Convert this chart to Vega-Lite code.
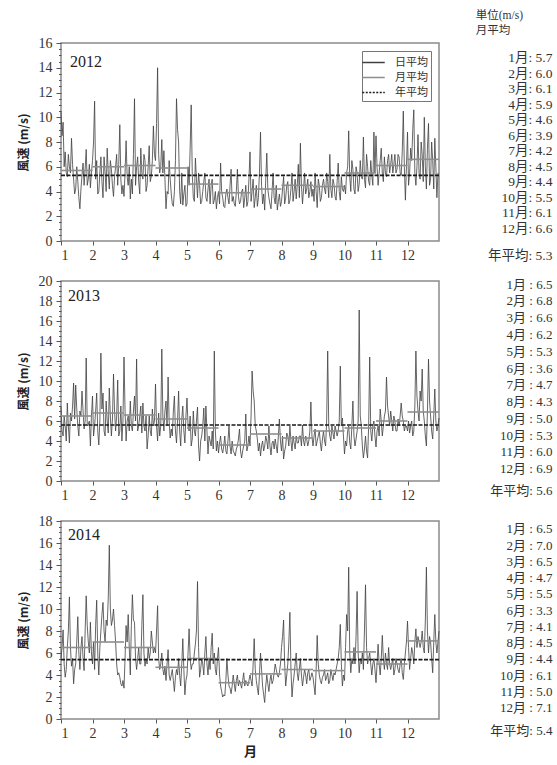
{
  "$schema": "https://vega.github.io/schema/vega-lite/v6.json",
  "padding": {"top": 9, "left": 16, "right": 0, "bottom": 2},
  "background": "white",
  "spacing": 40,
  "bounds": "flush",
  "config": {
    "view": {"stroke": "#8a8a8a", "strokeWidth": 1.5},
    "axis": {"labelFont": "Liberation Serif", "labelFontSize": 14, "labelColor": "#333", "tickColor": "#555", "domain": false, "grid": false, "labelOverlap": false, "labelSeparation": 0, "labelBound": false, "titleFont": "Noto Sans CJK JP", "titleFontSize": 12, "titleFontWeight": "bold", "titleColor": "#222"},
    "text": {"font": "Liberation Serif, Noto Sans CJK JP", "fontSize": 12, "color": "#333"}
  },
  "datasets": {
    "d2012": [{"d":0,"v":10.5},{"d":2,"v":9.6},{"d":4,"v":7.2},{"d":6,"v":5.2},{"d":8,"v":6.0},{"d":10,"v":8.3},{"d":12,"v":5.0},{"d":14,"v":4.2},{"d":16,"v":4.8},{"d":18,"v":2.6},{"d":20,"v":5.3},{"d":22,"v":4.5},{"d":24,"v":7.4},{"d":26,"v":5.0},{"d":28,"v":4.3},
      {"d":30,"v":6.5},{"d":32,"v":11.3},{"d":34,"v":6.5},{"d":36,"v":4.0},{"d":38,"v":6.8},{"d":40,"v":3.5},{"d":42,"v":5.5},{"d":44,"v":7.5},{"d":46,"v":4.2},{"d":48,"v":5.8},{"d":50,"v":3.6},{"d":52,"v":6.0},{"d":54,"v":4.5},{"d":56,"v":9.4},{"d":58,"v":3.8},
      {"d":60,"v":3.6},{"d":62,"v":8.1},{"d":64,"v":4.5},{"d":66,"v":3.4},{"d":68,"v":3.8},{"d":70,"v":11.5},{"d":72,"v":6.0},{"d":74,"v":4.8},{"d":76,"v":7.5},{"d":78,"v":5.0},{"d":80,"v":6.5},{"d":82,"v":4.5},{"d":84,"v":7.7},{"d":86,"v":5.2},{"d":88,"v":9.3},
      {"d":90,"v":6.5},{"d":92,"v":14.0},{"d":94,"v":5.5},{"d":96,"v":8.2},{"d":98,"v":7.3},{"d":100,"v":2.6},{"d":102,"v":3.8},{"d":104,"v":5.0},{"d":106,"v":3.0},{"d":108,"v":4.0},{"d":110,"v":11.5},{"d":112,"v":8.0},{"d":114,"v":3.0},{"d":116,"v":2.9},{"d":118,"v":4.5},
      {"d":120,"v":3.0},{"d":122,"v":4.5},{"d":124,"v":11.0},{"d":126,"v":3.5},{"d":128,"v":6.7},{"d":130,"v":3.5},{"d":132,"v":4.5},{"d":134,"v":3.2},{"d":136,"v":4.8},{"d":138,"v":3.5},{"d":140,"v":4.2},{"d":142,"v":3.0},{"d":144,"v":5.0},{"d":146,"v":3.3},{"d":148,"v":2.6},
      {"d":150,"v":4.0},{"d":152,"v":6.3},{"d":154,"v":3.5},{"d":156,"v":2.7},{"d":158,"v":4.2},{"d":160,"v":3.0},{"d":162,"v":5.8},{"d":164,"v":3.6},{"d":166,"v":2.8},{"d":168,"v":5.8},{"d":170,"v":3.0},{"d":172,"v":4.0},{"d":174,"v":2.7},{"d":176,"v":4.5},{"d":178,"v":3.2},
      {"d":180,"v":7.2},{"d":182,"v":4.0},{"d":184,"v":2.7},{"d":186,"v":4.5},{"d":188,"v":3.5},{"d":190,"v":8.8},{"d":192,"v":3.0},{"d":194,"v":2.5},{"d":196,"v":7.1},{"d":198,"v":3.5},{"d":200,"v":2.6},{"d":202,"v":5.5},{"d":204,"v":3.0},{"d":206,"v":2.5},{"d":208,"v":3.8},
      {"d":210,"v":3.2},{"d":212,"v":5.2},{"d":214,"v":3.5},{"d":216,"v":4.8},{"d":218,"v":3.3},{"d":220,"v":5.5},{"d":222,"v":4.0},{"d":224,"v":3.4},{"d":226,"v":6.2},{"d":228,"v":7.9},{"d":230,"v":3.0},{"d":232,"v":5.5},{"d":234,"v":4.2},{"d":236,"v":3.5},{"d":238,"v":4.8},
      {"d":240,"v":4.2},{"d":242,"v":5.5},{"d":244,"v":2.7},{"d":246,"v":4.5},{"d":248,"v":3.5},{"d":250,"v":5.0},{"d":252,"v":3.8},{"d":254,"v":4.8},{"d":256,"v":7.0},{"d":258,"v":3.5},{"d":260,"v":4.6},{"d":262,"v":3.3},{"d":264,"v":6.3},{"d":266,"v":3.3},{"d":268,"v":4.2},
      {"d":270,"v":4.5},{"d":272,"v":5.5},{"d":274,"v":8.9},{"d":276,"v":4.0},{"d":278,"v":5.8},{"d":280,"v":3.8},{"d":282,"v":5.5},{"d":284,"v":4.6},{"d":286,"v":5.2},{"d":288,"v":8.4},{"d":290,"v":4.3},{"d":292,"v":6.0},{"d":294,"v":4.5},{"d":296,"v":5.3},{"d":298,"v":8.8},
      {"d":300,"v":8.5},{"d":302,"v":4.5},{"d":304,"v":6.5},{"d":306,"v":5.5},{"d":308,"v":6.8},{"d":310,"v":5.2},{"d":312,"v":7.0},{"d":314,"v":6.2},{"d":316,"v":5.5},{"d":318,"v":7.0},{"d":320,"v":5.8},{"d":322,"v":6.8},{"d":324,"v":5.3},{"d":326,"v":10.5},{"d":328,"v":3.3},
      {"d":330,"v":8.8},{"d":332,"v":5.5},{"d":334,"v":6.5},{"d":336,"v":10.6},{"d":338,"v":4.5},{"d":340,"v":8.6},{"d":342,"v":5.0},{"d":344,"v":7.0},{"d":346,"v":10.0},{"d":348,"v":4.2},{"d":350,"v":9.5},{"d":352,"v":5.0},{"d":354,"v":6.5},{"d":356,"v":8.3},{"d":358,"v":3.5},
      {"d":1,"v":8.5},{"d":3,"v":6.0},{"d":5,"v":5.5},{"d":7,"v":7.0},{"d":9,"v":5.5},{"d":11,"v":6.2},{"d":13,"v":3.8},{"d":15,"v":6.0},{"d":17,"v":3.5},{"d":19,"v":4.2},{"d":21,"v":6.3},{"d":23,"v":5.8},{"d":25,"v":4.5},{"d":27,"v":6.2},{"d":29,"v":5.5},
      {"d":31,"v":8.0},{"d":33,"v":5.0},{"d":35,"v":3.8},{"d":37,"v":5.5},{"d":39,"v":4.8},{"d":41,"v":6.8},{"d":43,"v":4.0},{"d":45,"v":5.5},{"d":47,"v":6.5},{"d":49,"v":4.5},{"d":51,"v":5.2},{"d":53,"v":7.0},{"d":55,"v":6.2},{"d":57,"v":5.0},{"d":59,"v":4.5},
      {"d":61,"v":5.5},{"d":63,"v":5.2},{"d":65,"v":6.0},{"d":67,"v":5.0},{"d":69,"v":7.0},{"d":71,"v":4.5},{"d":73,"v":6.8},{"d":75,"v":3.8},{"d":77,"v":5.5},{"d":79,"v":7.0},{"d":81,"v":4.0},{"d":83,"v":6.0},{"d":85,"v":4.8},{"d":87,"v":6.5},{"d":89,"v":7.0},
      {"d":91,"v":9.5},{"d":93,"v":7.0},{"d":95,"v":6.0},{"d":97,"v":5.5},{"d":99,"v":5.0},{"d":101,"v":4.0},{"d":103,"v":6.5},{"d":105,"v":3.8},{"d":107,"v":2.8},{"d":109,"v":6.5},{"d":111,"v":9.0},{"d":113,"v":4.0},{"d":115,"v":5.5},{"d":117,"v":3.8},{"d":119,"v":2.8},
      {"d":121,"v":6.0},{"d":123,"v":7.5},{"d":125,"v":5.5},{"d":127,"v":3.2},{"d":129,"v":5.0},{"d":131,"v":5.5},{"d":133,"v":3.0},{"d":135,"v":4.0},{"d":137,"v":5.5},{"d":139,"v":3.2},{"d":141,"v":5.0},{"d":143,"v":4.5},{"d":145,"v":3.0},{"d":147,"v":4.0},{"d":149,"v":3.5},
      {"d":151,"v":3.0},{"d":153,"v":4.0},{"d":155,"v":2.8},{"d":157,"v":3.8},{"d":159,"v":3.5},{"d":161,"v":4.5},{"d":163,"v":3.2},{"d":165,"v":3.0},{"d":167,"v":4.0},{"d":169,"v":3.6},{"d":171,"v":3.2},{"d":173,"v":4.2},{"d":175,"v":3.5},{"d":177,"v":2.8},{"d":179,"v":5.0},
      {"d":181,"v":3.2},{"d":183,"v":5.0},{"d":185,"v":3.5},{"d":187,"v":2.8},{"d":189,"v":5.5},{"d":191,"v":4.5},{"d":193,"v":3.8},{"d":195,"v":5.0},{"d":197,"v":4.2},{"d":199,"v":3.0},{"d":201,"v":4.0},{"d":203,"v":3.5},{"d":205,"v":4.5},{"d":207,"v":3.2},{"d":209,"v":2.8},
      {"d":211,"v":4.2},{"d":213,"v":3.0},{"d":215,"v":4.5},{"d":217,"v":3.0},{"d":219,"v":4.2},{"d":221,"v":3.2},{"d":223,"v":5.0},{"d":225,"v":4.5},{"d":227,"v":3.5},{"d":229,"v":4.5},{"d":231,"v":4.2},{"d":233,"v":3.8},{"d":235,"v":5.0},{"d":237,"v":4.0},{"d":239,"v":3.6},
      {"d":241,"v":3.2},{"d":243,"v":4.0},{"d":245,"v":5.0},{"d":247,"v":3.2},{"d":249,"v":4.5},{"d":251,"v":4.2},{"d":253,"v":5.5},{"d":255,"v":3.5},{"d":257,"v":4.2},{"d":259,"v":5.0},{"d":261,"v":3.6},{"d":263,"v":4.8},{"d":265,"v":4.0},{"d":267,"v":5.2},{"d":269,"v":4.0},
      {"d":271,"v":3.8},{"d":273,"v":6.0},{"d":275,"v":5.2},{"d":277,"v":6.5},{"d":279,"v":4.2},{"d":281,"v":6.0},{"d":283,"v":4.0},{"d":285,"v":6.5},{"d":287,"v":5.0},{"d":289,"v":5.0},{"d":291,"v":7.0},{"d":293,"v":4.8},{"d":295,"v":6.5},{"d":297,"v":4.5},{"d":299,"v":5.5},
      {"d":301,"v":6.0},{"d":303,"v":5.5},{"d":305,"v":7.5},{"d":307,"v":4.8},{"d":309,"v":5.5},{"d":311,"v":6.5},{"d":313,"v":5.5},{"d":315,"v":7.0},{"d":317,"v":6.2},{"d":319,"v":5.5},{"d":321,"v":7.0},{"d":323,"v":5.5},{"d":325,"v":7.2},{"d":327,"v":6.0},{"d":329,"v":6.0},
      {"d":331,"v":4.5},{"d":333,"v":7.5},{"d":335,"v":9.0},{"d":337,"v":5.5},{"d":339,"v":6.0},{"d":341,"v":5.5},{"d":343,"v":8.0},{"d":345,"v":4.8},{"d":347,"v":6.0},{"d":349,"v":7.5},{"d":351,"v":4.5},{"d":353,"v":8.0},{"d":355,"v":4.2},{"d":357,"v":6.0},{"d":359,"v":5.5}],
    "d2013": [{"d":0,"v":7.4},{"d":2,"v":4.5},{"d":4,"v":5.5},{"d":6,"v":7.8},{"d":8,"v":3.8},{"d":10,"v":6.0},{"d":12,"v":9.8},{"d":14,"v":9.6},{"d":16,"v":5.5},{"d":18,"v":7.0},{"d":20,"v":9.0},{"d":22,"v":5.2},{"d":24,"v":12.3},{"d":26,"v":5.7},{"d":28,"v":3.5},
      {"d":30,"v":8.5},{"d":32,"v":5.5},{"d":34,"v":8.8},{"d":36,"v":3.6},{"d":38,"v":12.8},{"d":40,"v":8.8},{"d":42,"v":4.5},{"d":44,"v":6.0},{"d":46,"v":9.3},{"d":48,"v":4.5},{"d":50,"v":10.7},{"d":52,"v":5.0},{"d":54,"v":10.1},{"d":56,"v":5.0},{"d":58,"v":4.0},
      {"d":60,"v":12.4},{"d":62,"v":4.0},{"d":64,"v":6.5},{"d":66,"v":8.0},{"d":68,"v":5.0},{"d":70,"v":8.5},{"d":72,"v":12.2},{"d":74,"v":5.5},{"d":76,"v":7.5},{"d":78,"v":7.8},{"d":80,"v":5.0},{"d":82,"v":3.2},{"d":84,"v":6.5},{"d":86,"v":4.5},{"d":88,"v":5.5},
      {"d":90,"v":9.7},{"d":92,"v":4.0},{"d":94,"v":4.5},{"d":96,"v":13.2},{"d":98,"v":5.0},{"d":100,"v":8.0},{"d":102,"v":10.4},{"d":104,"v":4.3},{"d":106,"v":4.5},{"d":108,"v":8.5},{"d":110,"v":3.8},{"d":112,"v":9.0},{"d":114,"v":3.5},{"d":116,"v":7.5},{"d":118,"v":3.8},
      {"d":120,"v":8.3},{"d":122,"v":5.0},{"d":124,"v":3.5},{"d":126,"v":7.0},{"d":128,"v":4.5},{"d":130,"v":7.4},{"d":132,"v":2.0},{"d":134,"v":4.5},{"d":136,"v":7.3},{"d":138,"v":7.5},{"d":140,"v":2.7},{"d":142,"v":4.0},{"d":144,"v":5.0},{"d":146,"v":13.0},{"d":148,"v":3.0},
      {"d":150,"v":2.8},{"d":152,"v":4.5},{"d":154,"v":2.8},{"d":156,"v":4.5},{"d":158,"v":2.7},{"d":160,"v":5.5},{"d":162,"v":2.7},{"d":164,"v":3.0},{"d":166,"v":2.5},{"d":168,"v":3.5},{"d":170,"v":5.2},{"d":172,"v":2.3},{"d":174,"v":3.5},{"d":176,"v":6.7},{"d":178,"v":3.5},
      {"d":180,"v":3.5},{"d":182,"v":11.0},{"d":184,"v":8.0},{"d":186,"v":5.0},{"d":188,"v":3.0},{"d":190,"v":2.5},{"d":192,"v":4.0},{"d":194,"v":3.5},{"d":196,"v":4.0},{"d":198,"v":5.5},{"d":200,"v":2.6},{"d":202,"v":4.0},{"d":204,"v":4.2},{"d":206,"v":2.8},{"d":208,"v":6.2},
      {"d":210,"v":3.0},{"d":212,"v":2.2},{"d":214,"v":3.5},{"d":216,"v":4.5},{"d":218,"v":5.5},{"d":220,"v":3.0},{"d":222,"v":3.8},{"d":224,"v":4.5},{"d":226,"v":3.8},{"d":228,"v":4.5},{"d":230,"v":5.6},{"d":232,"v":3.5},{"d":234,"v":4.2},{"d":236,"v":4.0},{"d":238,"v":7.9},
      {"d":240,"v":3.5},{"d":242,"v":5.2},{"d":244,"v":4.0},{"d":246,"v":5.0},{"d":248,"v":3.0},{"d":250,"v":5.0},{"d":252,"v":3.5},{"d":254,"v":13.0},{"d":256,"v":4.5},{"d":258,"v":5.5},{"d":260,"v":4.2},{"d":262,"v":5.0},{"d":264,"v":5.0},{"d":266,"v":11.5},{"d":268,"v":6.3},
      {"d":270,"v":2.7},{"d":272,"v":3.5},{"d":274,"v":5.5},{"d":276,"v":3.2},{"d":278,"v":8.0},{"d":280,"v":3.5},{"d":282,"v":5.0},{"d":284,"v":17.1},{"d":286,"v":5.5},{"d":288,"v":2.3},{"d":290,"v":4.5},{"d":292,"v":2.3},{"d":294,"v":12.4},{"d":296,"v":4.0},{"d":298,"v":6.0},
      {"d":300,"v":3.4},{"d":302,"v":5.5},{"d":304,"v":7.2},{"d":306,"v":4.5},{"d":308,"v":6.5},{"d":310,"v":10.4},{"d":312,"v":6.5},{"d":314,"v":7.0},{"d":316,"v":5.0},{"d":318,"v":6.0},{"d":320,"v":5.0},{"d":322,"v":5.5},{"d":324,"v":7.8},{"d":326,"v":6.0},{"d":328,"v":5.5},
      {"d":330,"v":5.0},{"d":332,"v":4.8},{"d":334,"v":6.0},{"d":336,"v":5.0},{"d":338,"v":13.0},{"d":340,"v":7.0},{"d":342,"v":9.0},{"d":344,"v":11.2},{"d":346,"v":6.0},{"d":348,"v":3.5},{"d":350,"v":12.2},{"d":352,"v":6.5},{"d":354,"v":4.2},{"d":356,"v":9.2},{"d":358,"v":5.0},{"d":360,"v":6.3},
      {"d":1,"v":5.0},{"d":3,"v":6.5},{"d":5,"v":4.0},{"d":7,"v":5.5},{"d":9,"v":6.8},{"d":11,"v":7.5},{"d":13,"v":6.2},{"d":15,"v":7.2},{"d":17,"v":4.5},{"d":19,"v":6.5},{"d":21,"v":7.0},{"d":23,"v":6.0},{"d":25,"v":5.5},{"d":27,"v":6.0},{"d":29,"v":6.5},
      {"d":31,"v":4.5},{"d":33,"v":7.0},{"d":35,"v":5.0},{"d":37,"v":6.0},{"d":39,"v":7.2},{"d":41,"v":5.0},{"d":43,"v":8.0},{"d":45,"v":4.8},{"d":47,"v":6.5},{"d":49,"v":6.2},{"d":51,"v":7.0},{"d":53,"v":6.5},{"d":55,"v":4.5},{"d":57,"v":7.5},{"d":59,"v":6.0},
      {"d":61,"v":7.0},{"d":63,"v":6.0},{"d":65,"v":5.0},{"d":67,"v":5.5},{"d":69,"v":7.0},{"d":71,"v":6.0},{"d":73,"v":5.0},{"d":75,"v":6.5},{"d":77,"v":4.8},{"d":79,"v":5.5},{"d":81,"v":6.5},{"d":83,"v":4.5},{"d":85,"v":5.0},{"d":87,"v":7.2},{"d":89,"v":6.0},
      {"d":91,"v":5.5},{"d":93,"v":6.8},{"d":95,"v":5.5},{"d":97,"v":6.5},{"d":99,"v":7.0},{"d":101,"v":5.5},{"d":103,"v":6.0},{"d":105,"v":5.2},{"d":107,"v":7.0},{"d":109,"v":5.0},{"d":111,"v":6.0},{"d":113,"v":5.0},{"d":115,"v":6.2},{"d":117,"v":5.0},{"d":119,"v":6.5},
      {"d":121,"v":5.5},{"d":123,"v":6.5},{"d":125,"v":4.2},{"d":127,"v":5.0},{"d":129,"v":6.0},{"d":131,"v":3.5},{"d":133,"v":4.0},{"d":135,"v":5.5},{"d":137,"v":4.0},{"d":139,"v":5.0},{"d":141,"v":4.5},{"d":143,"v":3.5},{"d":145,"v":3.2},{"d":147,"v":5.0},{"d":149,"v":4.0},
      {"d":151,"v":3.8},{"d":153,"v":3.2},{"d":155,"v":3.5},{"d":157,"v":3.0},{"d":159,"v":4.0},{"d":161,"v":3.5},{"d":163,"v":4.0},{"d":165,"v":2.8},{"d":167,"v":3.2},{"d":169,"v":4.2},{"d":171,"v":3.0},{"d":173,"v":3.0},{"d":175,"v":4.0},{"d":177,"v":3.0},{"d":179,"v":4.5},
      {"d":181,"v":6.5},{"d":183,"v":9.0},{"d":185,"v":5.5},{"d":187,"v":4.2},{"d":189,"v":3.8},{"d":191,"v":3.5},{"d":193,"v":3.0},{"d":195,"v":4.5},{"d":197,"v":3.2},{"d":199,"v":3.5},{"d":201,"v":3.8},{"d":203,"v":3.2},{"d":205,"v":3.5},{"d":207,"v":4.5},{"d":209,"v":4.0},
      {"d":211,"v":4.5},{"d":213,"v":3.0},{"d":215,"v":4.8},{"d":217,"v":3.5},{"d":219,"v":4.0},{"d":221,"v":4.5},{"d":223,"v":3.2},{"d":225,"v":3.8},{"d":227,"v":4.5},{"d":229,"v":3.5},{"d":231,"v":4.0},{"d":233,"v":4.5},{"d":235,"v":3.5},{"d":237,"v":5.0},{"d":239,"v":4.5},
      {"d":241,"v":4.5},{"d":243,"v":3.5},{"d":245,"v":4.5},{"d":247,"v":3.8},{"d":249,"v":4.2},{"d":251,"v":4.0},{"d":253,"v":6.0},{"d":255,"v":5.5},{"d":257,"v":4.0},{"d":259,"v":4.8},{"d":261,"v":5.5},{"d":263,"v":4.5},{"d":265,"v":6.0},{"d":267,"v":5.5},{"d":269,"v":4.5},
      {"d":271,"v":4.0},{"d":273,"v":5.0},{"d":275,"v":3.8},{"d":277,"v":5.5},{"d":279,"v":4.5},{"d":281,"v":4.2},{"d":283,"v":6.0},{"d":285,"v":6.5},{"d":287,"v":3.5},{"d":289,"v":3.2},{"d":291,"v":3.0},{"d":293,"v":5.5},{"d":295,"v":5.0},{"d":297,"v":5.5},{"d":299,"v":4.5},
      {"d":301,"v":5.0},{"d":303,"v":4.5},{"d":305,"v":6.0},{"d":307,"v":5.5},{"d":309,"v":7.0},{"d":311,"v":7.5},{"d":313,"v":5.5},{"d":315,"v":6.0},{"d":317,"v":6.5},{"d":319,"v":5.0},{"d":321,"v":6.2},{"d":323,"v":6.5},{"d":325,"v":6.5},{"d":327,"v":5.0},{"d":329,"v":5.5},
      {"d":331,"v":6.0},{"d":333,"v":5.5},{"d":335,"v":4.5},{"d":337,"v":7.5},{"d":339,"v":8.5},{"d":341,"v":6.0},{"d":343,"v":8.0},{"d":345,"v":7.0},{"d":347,"v":4.5},{"d":349,"v":7.0},{"d":351,"v":8.0},{"d":353,"v":5.0},{"d":355,"v":6.5},{"d":357,"v":6.0},{"d":359,"v":5.5}],
    "d2014": [{"d":0,"v":5.5},{"d":2,"v":8.1},{"d":4,"v":3.8},{"d":6,"v":6.5},{"d":8,"v":11.1},{"d":10,"v":4.8},{"d":12,"v":3.2},{"d":14,"v":5.0},{"d":16,"v":9.3},{"d":18,"v":4.5},{"d":20,"v":7.5},{"d":22,"v":4.4},{"d":24,"v":11.2},{"d":26,"v":7.0},{"d":28,"v":8.8},
      {"d":30,"v":5.0},{"d":32,"v":4.5},{"d":34,"v":10.8},{"d":36,"v":4.0},{"d":38,"v":8.0},{"d":40,"v":10.6},{"d":42,"v":7.0},{"d":44,"v":8.5},{"d":46,"v":15.8},{"d":48,"v":8.5},{"d":50,"v":10.0},{"d":52,"v":7.0},{"d":54,"v":4.0},{"d":56,"v":3.8},{"d":58,"v":3.0},
      {"d":60,"v":2.8},{"d":62,"v":8.5},{"d":64,"v":9.5},{"d":66,"v":4.0},{"d":68,"v":11.3},{"d":70,"v":8.8},{"d":72,"v":4.5},{"d":74,"v":6.5},{"d":76,"v":5.0},{"d":78,"v":11.3},{"d":80,"v":4.8},{"d":82,"v":5.0},{"d":84,"v":5.5},{"d":86,"v":8.0},{"d":88,"v":6.0},
      {"d":90,"v":6.0},{"d":92,"v":10.3},{"d":94,"v":4.5},{"d":96,"v":6.0},{"d":98,"v":4.0},{"d":100,"v":3.5},{"d":102,"v":6.3},{"d":104,"v":3.5},{"d":106,"v":4.5},{"d":108,"v":2.5},{"d":110,"v":4.5},{"d":112,"v":5.5},{"d":114,"v":3.0},{"d":116,"v":7.3},{"d":118,"v":2.2},
      {"d":120,"v":4.0},{"d":122,"v":8.2},{"d":124,"v":4.5},{"d":126,"v":5.0},{"d":128,"v":6.8},{"d":130,"v":12.5},{"d":132,"v":3.8},{"d":134,"v":5.5},{"d":136,"v":4.0},{"d":138,"v":7.5},{"d":140,"v":4.0},{"d":142,"v":4.5},{"d":144,"v":7.8},{"d":146,"v":6.0},{"d":148,"v":4.0},
      {"d":150,"v":6.5},{"d":152,"v":3.0},{"d":154,"v":2.0},{"d":156,"v":2.1},{"d":158,"v":5.5},{"d":160,"v":3.0},{"d":162,"v":2.3},{"d":164,"v":4.0},{"d":166,"v":2.5},{"d":168,"v":4.0},{"d":170,"v":3.5},{"d":172,"v":2.8},{"d":174,"v":4.2},{"d":176,"v":3.5},{"d":178,"v":3.0},
      {"d":180,"v":4.0},{"d":182,"v":3.0},{"d":184,"v":7.3},{"d":186,"v":3.5},{"d":188,"v":2.2},{"d":190,"v":6.0},{"d":192,"v":3.0},{"d":194,"v":1.5},{"d":196,"v":4.0},{"d":198,"v":2.5},{"d":200,"v":4.0},{"d":202,"v":3.5},{"d":204,"v":5.0},{"d":206,"v":4.0},{"d":208,"v":4.2},
      {"d":210,"v":6.5},{"d":212,"v":9.0},{"d":214,"v":3.0},{"d":216,"v":5.0},{"d":218,"v":9.7},{"d":220,"v":2.0},{"d":222,"v":4.0},{"d":224,"v":6.0},{"d":226,"v":3.5},{"d":228,"v":5.5},{"d":230,"v":3.0},{"d":232,"v":4.5},{"d":234,"v":3.2},{"d":236,"v":4.5},{"d":238,"v":3.8},
      {"d":240,"v":3.8},{"d":242,"v":2.2},{"d":244,"v":7.6},{"d":246,"v":4.0},{"d":248,"v":3.2},{"d":250,"v":4.0},{"d":252,"v":3.5},{"d":254,"v":4.2},{"d":256,"v":3.5},{"d":258,"v":4.0},{"d":260,"v":4.2},{"d":262,"v":4.5},{"d":264,"v":5.5},{"d":266,"v":8.6},{"d":268,"v":3.0},
      {"d":270,"v":3.5},{"d":272,"v":9.5},{"d":274,"v":13.8},{"d":276,"v":4.2},{"d":278,"v":5.0},{"d":280,"v":5.0},{"d":282,"v":11.6},{"d":284,"v":4.2},{"d":286,"v":5.0},{"d":288,"v":4.5},{"d":290,"v":12.2},{"d":292,"v":5.0},{"d":294,"v":6.0},{"d":296,"v":4.0},{"d":298,"v":5.5},
      {"d":300,"v":3.3},{"d":302,"v":6.8},{"d":304,"v":4.0},{"d":306,"v":7.6},{"d":308,"v":4.5},{"d":310,"v":5.0},{"d":312,"v":6.5},{"d":314,"v":4.5},{"d":316,"v":5.5},{"d":318,"v":4.5},{"d":320,"v":5.0},{"d":322,"v":4.2},{"d":324,"v":5.5},{"d":326,"v":3.6},{"d":328,"v":6.0},
      {"d":330,"v":8.9},{"d":332,"v":4.5},{"d":334,"v":6.5},{"d":336,"v":5.0},{"d":338,"v":8.2},{"d":340,"v":7.5},{"d":342,"v":6.5},{"d":344,"v":8.0},{"d":346,"v":6.0},{"d":348,"v":13.8},{"d":350,"v":6.0},{"d":352,"v":7.0},{"d":354,"v":4.2},{"d":356,"v":9.5},{"d":358,"v":6.0},{"d":360,"v":8.0},
      {"d":1,"v":6.5},{"d":3,"v":5.0},{"d":5,"v":4.5},{"d":7,"v":8.0},{"d":9,"v":6.5},{"d":11,"v":5.5},{"d":13,"v":4.5},{"d":15,"v":7.0},{"d":17,"v":6.0},{"d":19,"v":6.5},{"d":21,"v":5.5},{"d":23,"v":8.0},{"d":25,"v":8.5},{"d":27,"v":6.0},{"d":29,"v":6.0},
      {"d":31,"v":7.0},{"d":33,"v":8.5},{"d":35,"v":6.0},{"d":37,"v":6.5},{"d":39,"v":9.5},{"d":41,"v":8.0},{"d":43,"v":9.0},{"d":45,"v":11.0},{"d":47,"v":10.0},{"d":49,"v":9.0},{"d":51,"v":8.5},{"d":53,"v":5.0},{"d":55,"v":4.2},{"d":57,"v":3.2},{"d":59,"v":3.5},
      {"d":61,"v":5.5},{"d":63,"v":7.0},{"d":65,"v":6.5},{"d":67,"v":8.5},{"d":69,"v":9.0},{"d":71,"v":5.5},{"d":73,"v":5.5},{"d":75,"v":5.0},{"d":77,"v":8.5},{"d":79,"v":6.0},{"d":81,"v":5.5},{"d":83,"v":6.5},{"d":85,"v":6.0},{"d":87,"v":7.0},{"d":89,"v":6.5},
      {"d":91,"v":8.0},{"d":93,"v":5.5},{"d":95,"v":5.0},{"d":97,"v":4.5},{"d":99,"v":4.8},{"d":101,"v":5.0},{"d":103,"v":4.0},{"d":105,"v":4.0},{"d":107,"v":3.5},{"d":109,"v":3.8},{"d":111,"v":4.0},{"d":113,"v":4.0},{"d":115,"v":5.0},{"d":117,"v":4.5},{"d":119,"v":3.5},
      {"d":121,"v":6.0},{"d":123,"v":5.5},{"d":125,"v":5.0},{"d":127,"v":6.0},{"d":129,"v":8.0},{"d":131,"v":6.5},{"d":133,"v":4.5},{"d":135,"v":5.0},{"d":137,"v":6.0},{"d":139,"v":5.0},{"d":141,"v":5.5},{"d":143,"v":6.5},{"d":145,"v":5.0},{"d":147,"v":4.5},{"d":149,"v":5.5},
      {"d":151,"v":4.0},{"d":153,"v":2.5},{"d":155,"v":2.2},{"d":157,"v":3.5},{"d":159,"v":4.0},{"d":161,"v":2.8},{"d":163,"v":3.0},{"d":165,"v":3.2},{"d":167,"v":3.5},{"d":169,"v":3.0},{"d":171,"v":3.2},{"d":173,"v":3.5},{"d":175,"v":3.0},{"d":177,"v":3.2},{"d":179,"v":3.5},
      {"d":181,"v":3.5},{"d":183,"v":5.0},{"d":185,"v":4.5},{"d":187,"v":2.8},{"d":189,"v":4.0},{"d":191,"v":4.5},{"d":193,"v":2.2},{"d":195,"v":3.0},{"d":197,"v":3.2},{"d":199,"v":3.5},{"d":201,"v":3.2},{"d":203,"v":4.2},{"d":205,"v":4.5},{"d":207,"v":3.8},{"d":209,"v":5.0},
      {"d":211,"v":7.5},{"d":213,"v":5.0},{"d":215,"v":4.0},{"d":217,"v":7.0},{"d":219,"v":4.5},{"d":221,"v":3.2},{"d":223,"v":5.0},{"d":225,"v":4.2},{"d":227,"v":4.5},{"d":229,"v":4.0},{"d":231,"v":3.8},{"d":233,"v":4.0},{"d":235,"v":4.2},{"d":237,"v":3.5},{"d":239,"v":4.2},
      {"d":241,"v":3.0},{"d":243,"v":4.5},{"d":245,"v":5.0},{"d":247,"v":3.5},{"d":249,"v":3.8},{"d":251,"v":4.5},{"d":253,"v":3.8},{"d":255,"v":3.2},{"d":257,"v":4.5},{"d":259,"v":3.5},{"d":261,"v":4.0},{"d":263,"v":5.0},{"d":265,"v":6.5},{"d":267,"v":5.0},{"d":269,"v":4.0},
      {"d":271,"v":6.5},{"d":273,"v":8.0},{"d":275,"v":6.0},{"d":277,"v":5.5},{"d":279,"v":6.5},{"d":281,"v":7.5},{"d":283,"v":6.0},{"d":285,"v":5.5},{"d":287,"v":6.0},{"d":289,"v":8.0},{"d":291,"v":6.5},{"d":293,"v":5.5},{"d":295,"v":5.0},{"d":297,"v":5.0},{"d":299,"v":4.5},
      {"d":301,"v":5.0},{"d":303,"v":5.0},{"d":305,"v":5.5},{"d":307,"v":5.5},{"d":309,"v":6.0},{"d":311,"v":4.5},{"d":313,"v":5.0},{"d":315,"v":5.0},{"d":317,"v":4.0},{"d":319,"v":5.5},{"d":321,"v":4.5},{"d":323,"v":5.0},{"d":325,"v":4.2},{"d":327,"v":5.0},{"d":329,"v":7.0},
      {"d":331,"v":6.5},{"d":333,"v":5.5},{"d":335,"v":6.0},{"d":337,"v":7.0},{"d":339,"v":6.5},{"d":341,"v":7.0},{"d":343,"v":7.0},{"d":345,"v":6.5},{"d":347,"v":9.0},{"d":349,"v":8.0},{"d":351,"v":7.5},{"d":353,"v":5.5},{"d":355,"v":7.0},{"d":357,"v":7.0},{"d":359,"v":7.0}],
    "m2012": [{"a":0,"b":30,"v":5.7},{"a":30,"b":60,"v":6.0},{"a":60,"b":90,"v":6.1},{"a":90,"b":120,"v":5.9},{"a":120,"b":150,"v":4.6},{"a":150,"b":180,"v":3.9},{"a":180,"b":210,"v":4.2},{"a":210,"b":240,"v":4.5},{"a":240,"b":270,"v":4.4},{"a":270,"b":300,"v":5.5},{"a":300,"b":330,"v":6.1},{"a":330,"b":360,"v":6.6}],
    "m2013": [{"a":0,"b":30,"v":6.5},{"a":30,"b":60,"v":6.8},{"a":60,"b":90,"v":6.6},{"a":90,"b":120,"v":6.2},{"a":120,"b":150,"v":5.3},{"a":150,"b":180,"v":3.6},{"a":180,"b":210,"v":4.7},{"a":210,"b":240,"v":4.3},{"a":240,"b":270,"v":5.0},{"a":270,"b":300,"v":5.3},{"a":300,"b":330,"v":6.0},{"a":330,"b":360,"v":6.9}],
    "m2014": [{"a":0,"b":30,"v":6.5},{"a":30,"b":60,"v":7.0},{"a":60,"b":90,"v":6.5},{"a":90,"b":120,"v":4.7},{"a":120,"b":150,"v":5.5},{"a":150,"b":180,"v":3.3},{"a":180,"b":210,"v":4.1},{"a":210,"b":240,"v":4.5},{"a":240,"b":270,"v":4.4},{"a":270,"b":300,"v":6.1},{"a":300,"b":330,"v":5.0},{"a":330,"b":360,"v":7.1}],
    "t2012": [{"r":1,"t":"1月: 5.7"},{"r":2,"t":"2月: 6.0"},{"r":3,"t":"3月: 6.1"},{"r":4,"t":"4月: 5.9"},{"r":5,"t":"5月: 4.6"},{"r":6,"t":"6月: 3.9"},{"r":7,"t":"7月: 4.2"},{"r":8,"t":"8月: 4.5"},{"r":9,"t":"9月: 4.4"},{"r":10,"t":"10月: 5.5"},{"r":11,"t":"11月: 6.1"},{"r":12,"t":"12月: 6.6"},{"r":13.73,"t":"年平均: 5.3"}],
    "t2013": [{"r":1,"t":"1月 : 6.5"},{"r":2,"t":"2月 : 6.8"},{"r":3,"t":"3月 : 6.6"},{"r":4,"t":"4月 : 6.2"},{"r":5,"t":"5月 : 5.3"},{"r":6,"t":"6月 : 3.6"},{"r":7,"t":"7月 : 4.7"},{"r":8,"t":"8月 : 4.3"},{"r":9,"t":"9月 : 5.0"},{"r":10,"t":"10月 : 5.3"},{"r":11,"t":"11月 : 6.0"},{"r":12,"t":"12月 : 6.9"},{"r":13.29,"t":"年平均: 5.6"}],
    "t2014": [{"r":1,"t":"1月 : 6.5"},{"r":2,"t":"2月 : 7.0"},{"r":3,"t":"3月 : 6.5"},{"r":4,"t":"4月 : 4.7"},{"r":5,"t":"5月 : 5.5"},{"r":6,"t":"6月 : 3.3"},{"r":7,"t":"7月 : 4.1"},{"r":8,"t":"8月 : 4.5"},{"r":9,"t":"9月 : 4.4"},{"r":10,"t":"10月 : 6.1"},{"r":11,"t":"11月 : 5.0"},{"r":12,"t":"12月 : 7.1"},{"r":13.4,"t":"年平均: 5.4"}]
  },
  "vconcat": [
    {
      "width": 378, "height": 198,
      "layer": [
        {"layer": [
          {"data": {"name": "d2012"}, "mark": {"type": "line", "strokeWidth": 0.8},
           "encoding": {
             "x": {"field": "d", "type": "quantitative", "scale": {"domain": [0, 360], "nice": false, "zero": false},
                   "axis": {"values": [0,30,60,90,120,150,180,210,240,270,300,330], "labelExpr": "datum.value/30+1", "labelFont": "Liberation Serif", "title": null, "tickSize": 4, "labelPadding": 3, "labelOverlap": false}},
             "y": {"field": "v", "type": "quantitative", "scale": {"domain": [0, 16], "nice": false},
                   "axis": {"values": [0,0.5,1,1.5,2,2.5,3,3.5,4,4.5,5,5.5,6,6.5,7,7.5,8,8.5,9,9.5,10,10.5,11,11.5,12,12.5,13,13.5,14,14.5,15,15.5,16], "labelExpr": "datum.value % 2 === 0 ? format(datum.value, 'd') : ''", "labelFont": "Liberation Serif", "tickSize": {"condition": {"test": "datum.value % 2 === 0", "value": 5}, "value": 2.5}, "labelOverlap": false, "labelPadding": 4, "title": "風速 (m/s)", "titlePadding": 8}},
             "color": {"datum": "日平均", "type": "nominal",
                       "scale": {"domain": ["日平均", "月平均", "年平均"], "range": ["#404040", "#8e8e8e", "#1a1a1a"]},
                       "legend": {"title": null, "orient": "top-right", "offset": 8, "symbolType": "M-1.5,0H1.5", "symbolSize": 225, "symbolStrokeWidth": 1.5, "labelFont": "Noto Sans CJK JP", "labelFontSize": 11, "labelColor": "#333", "labelOffset": 13, "strokeColor": "#777", "fillColor": "white", "padding": 3, "rowPadding": 1,
                                  "encode": {"symbols": {"update": {"strokeDash": {"signal": "datum.label === '年平均' ? [2, 1.5] : []"}}}}}}
           }},
          {"data": {"name": "m2012"}, "mark": {"type": "rule", "strokeWidth": 1.6},
           "encoding": {"x": {"field": "a", "type": "quantitative", "axis": {"values": [0,30,60,90,120,150,180,210,240,270,300,330], "labelExpr": "datum.value/30+1", "labelFont": "Liberation Serif", "title": null, "tickSize": 4, "labelPadding": 3, "labelOverlap": false}},
                        "x2": {"field": "b"},
                        "y": {"field": "v", "type": "quantitative", "axis": {"values": [0,0.5,1,1.5,2,2.5,3,3.5,4,4.5,5,5.5,6,6.5,7,7.5,8,8.5,9,9.5,10,10.5,11,11.5,12,12.5,13,13.5,14,14.5,15,15.5,16], "labelExpr": "datum.value % 2 === 0 ? format(datum.value, 'd') : ''", "labelFont": "Liberation Serif", "tickSize": {"condition": {"test": "datum.value % 2 === 0", "value": 5}, "value": 2.5}, "labelOverlap": false, "labelPadding": 4, "title": "風速 (m/s)", "titlePadding": 8}},
                        "color": {"datum": "月平均", "type": "nominal"}}},
          {"data": {"values": [{"v": 5.3}]}, "mark": {"type": "rule", "strokeWidth": 1.6, "strokeDash": [4, 1.5]},
           "encoding": {"y": {"field": "v", "type": "quantitative", "axis": {"values": [0,0.5,1,1.5,2,2.5,3,3.5,4,4.5,5,5.5,6,6.5,7,7.5,8,8.5,9,9.5,10,10.5,11,11.5,12,12.5,13,13.5,14,14.5,15,15.5,16], "labelExpr": "datum.value % 2 === 0 ? format(datum.value, 'd') : ''", "labelFont": "Liberation Serif", "tickSize": {"condition": {"test": "datum.value % 2 === 0", "value": 5}, "value": 2.5}, "labelOverlap": false, "labelPadding": 4, "title": "風速 (m/s)", "titlePadding": 8}},
                        "color": {"datum": "年平均", "type": "nominal"}}},
          {"data": {"values": [{"t": "2012", "x": 8.6, "y": 14.5}]}, "mark": {"type": "text", "align": "left", "baseline": "middle", "fontSize": 16, "font": "Liberation Serif", "color": "#222"},
           "encoding": {"x": {"field": "x", "type": "quantitative", "axis": {"values": [0,30,60,90,120,150,180,210,240,270,300,330], "labelExpr": "datum.value/30+1", "labelFont": "Liberation Serif", "title": null, "tickSize": 4, "labelPadding": 3, "labelOverlap": false}},
                        "y": {"field": "y", "type": "quantitative", "axis": {"values": [0,0.5,1,1.5,2,2.5,3,3.5,4,4.5,5,5.5,6,6.5,7,7.5,8,8.5,9,9.5,10,10.5,11,11.5,12,12.5,13,13.5,14,14.5,15,15.5,16], "labelExpr": "datum.value % 2 === 0 ? format(datum.value, 'd') : ''", "labelFont": "Liberation Serif", "tickSize": {"condition": {"test": "datum.value % 2 === 0", "value": 5}, "value": 2.5}, "labelOverlap": false, "labelPadding": 4, "title": "風速 (m/s)", "titlePadding": 8}},
                        "text": {"field": "t"}}}
        ]},
        {"layer": [
          {"data": {"name": "t2012"}, "mark": {"type": "text", "align": "right", "baseline": "middle", "fontSize": 13.5},
           "encoding": {"x": {"datum": 468, "axis": {"values": [0,30,60,90,120,150,180,210,240,270,300,330], "labelExpr": "datum.value/30+1", "labelFont": "Liberation Serif", "title": null, "tickSize": 4, "labelPadding": 3, "labelOverlap": false}},
                        "y": {"field": "r", "type": "quantitative", "scale": {"domain": [0.035, 12.77], "reverse": true, "nice": false, "zero": false}, "axis": null}, "text": {"field": "t"}}},
          {"data": {"values": [{"r": -1.7, "t": "単位(m/s)"}, {"r": -0.74, "t": "月平均"}]}, "mark": {"type": "text", "align": "left", "baseline": "middle", "fontSize": 11.5},
           "encoding": {"x": {"datum": 395, "axis": {"values": [0,30,60,90,120,150,180,210,240,270,300,330], "labelExpr": "datum.value/30+1", "labelFont": "Liberation Serif", "title": null, "tickSize": 4, "labelPadding": 3, "labelOverlap": false}},
                        "y": {"field": "r", "type": "quantitative", "axis": null}, "text": {"field": "t"}}}
        ]}
      ],
      "resolve": {"scale": {"y": "independent"}}
    },
    {
      "width": 378, "height": 200,
      "layer": [
        {"layer": [
          {"data": {"name": "d2013"}, "mark": {"type": "line", "strokeWidth": 0.8, "color": "#404040"},
           "encoding": {
             "x": {"field": "d", "type": "quantitative", "scale": {"domain": [0, 360], "nice": false, "zero": false},
                   "axis": {"values": [0,30,60,90,120,150,180,210,240,270,300,330], "labelExpr": "datum.value/30+1", "labelFont": "Liberation Serif", "title": null, "tickSize": 4, "labelPadding": 3, "labelOverlap": false}},
             "y": {"field": "v", "type": "quantitative", "scale": {"domain": [0, 20], "nice": false},
                   "axis": {"values": [0,0.5,1,1.5,2,2.5,3,3.5,4,4.5,5,5.5,6,6.5,7,7.5,8,8.5,9,9.5,10,10.5,11,11.5,12,12.5,13,13.5,14,14.5,15,15.5,16,16.5,17,17.5,18,18.5,19,19.5,20], "labelExpr": "datum.value % 2 === 0 ? format(datum.value, 'd') : ''", "labelFont": "Liberation Serif", "tickSize": {"condition": {"test": "datum.value % 2 === 0", "value": 5}, "value": 2.5}, "labelOverlap": false, "labelPadding": 4, "title": "風速 (m/s)", "titlePadding": 8}}
           }},
          {"data": {"name": "m2013"}, "mark": {"type": "rule", "strokeWidth": 1.6, "color": "#8e8e8e"},
           "encoding": {"x": {"field": "a", "type": "quantitative", "axis": {"values": [0,30,60,90,120,150,180,210,240,270,300,330], "labelExpr": "datum.value/30+1", "labelFont": "Liberation Serif", "title": null, "tickSize": 4, "labelPadding": 3, "labelOverlap": false}},
                        "x2": {"field": "b"},
                        "y": {"field": "v", "type": "quantitative", "axis": {"values": [0,0.5,1,1.5,2,2.5,3,3.5,4,4.5,5,5.5,6,6.5,7,7.5,8,8.5,9,9.5,10,10.5,11,11.5,12,12.5,13,13.5,14,14.5,15,15.5,16,16.5,17,17.5,18,18.5,19,19.5,20], "labelExpr": "datum.value % 2 === 0 ? format(datum.value, 'd') : ''", "labelFont": "Liberation Serif", "tickSize": {"condition": {"test": "datum.value % 2 === 0", "value": 5}, "value": 2.5}, "labelOverlap": false, "labelPadding": 4, "title": "風速 (m/s)", "titlePadding": 8}}}},
          {"data": {"values": [{"v": 5.6}]}, "mark": {"type": "rule", "strokeWidth": 1.6, "strokeDash": [4, 1.5], "color": "#1a1a1a"},
           "encoding": {"y": {"field": "v", "type": "quantitative", "axis": {"values": [0,0.5,1,1.5,2,2.5,3,3.5,4,4.5,5,5.5,6,6.5,7,7.5,8,8.5,9,9.5,10,10.5,11,11.5,12,12.5,13,13.5,14,14.5,15,15.5,16,16.5,17,17.5,18,18.5,19,19.5,20], "labelExpr": "datum.value % 2 === 0 ? format(datum.value, 'd') : ''", "labelFont": "Liberation Serif", "tickSize": {"condition": {"test": "datum.value % 2 === 0", "value": 5}, "value": 2.5}, "labelOverlap": false, "labelPadding": 4, "title": "風速 (m/s)", "titlePadding": 8}}}},
          {"data": {"values": [{"t": "2013", "x": 6.7, "y": 18.5}]}, "mark": {"type": "text", "align": "left", "baseline": "middle", "fontSize": 16, "font": "Liberation Serif", "color": "#222"},
           "encoding": {"x": {"field": "x", "type": "quantitative", "axis": {"values": [0,30,60,90,120,150,180,210,240,270,300,330], "labelExpr": "datum.value/30+1", "labelFont": "Liberation Serif", "title": null, "tickSize": 4, "labelPadding": 3, "labelOverlap": false}},
                        "y": {"field": "y", "type": "quantitative", "axis": {"values": [0,0.5,1,1.5,2,2.5,3,3.5,4,4.5,5,5.5,6,6.5,7,7.5,8,8.5,9,9.5,10,10.5,11,11.5,12,12.5,13,13.5,14,14.5,15,15.5,16,16.5,17,17.5,18,18.5,19,19.5,20], "labelExpr": "datum.value % 2 === 0 ? format(datum.value, 'd') : ''", "labelFont": "Liberation Serif", "tickSize": {"condition": {"test": "datum.value % 2 === 0", "value": 5}, "value": 2.5}, "labelOverlap": false, "labelPadding": 4, "title": "風速 (m/s)", "titlePadding": 8}},
                        "text": {"field": "t"}}}
        ]},
        {"layer": [
          {"data": {"name": "t2013"}, "mark": {"type": "text", "align": "right", "baseline": "middle", "fontSize": 13},
           "encoding": {"x": {"datum": 468, "axis": {"values": [0,30,60,90,120,150,180,210,240,270,300,330], "labelExpr": "datum.value/30+1", "labelFont": "Liberation Serif", "title": null, "tickSize": 4, "labelPadding": 3, "labelOverlap": false}},
                        "y": {"field": "r", "type": "quantitative", "scale": {"domain": [0.78, 12.70], "reverse": true, "nice": false, "zero": false}, "axis": null}, "text": {"field": "t"}}}
        ]}
      ],
      "resolve": {"scale": {"y": "independent"}}
    },
    {
      "width": 378, "height": 198,
      "layer": [
        {"layer": [
          {"data": {"name": "d2014"}, "mark": {"type": "line", "strokeWidth": 0.8, "color": "#404040"},
           "encoding": {
             "x": {"field": "d", "type": "quantitative", "scale": {"domain": [0, 360], "nice": false, "zero": false},
                   "axis": {"values": [0,30,60,90,120,150,180,210,240,270,300,330], "labelExpr": "datum.value/30+1", "labelFont": "Liberation Serif", "title": "月", "titleFontSize": 13, "titlePadding": 5, "tickSize": 4, "labelPadding": 3, "labelOverlap": false}},
             "y": {"field": "v", "type": "quantitative", "scale": {"domain": [0, 18], "nice": false},
                   "axis": {"values": [0,0.5,1,1.5,2,2.5,3,3.5,4,4.5,5,5.5,6,6.5,7,7.5,8,8.5,9,9.5,10,10.5,11,11.5,12,12.5,13,13.5,14,14.5,15,15.5,16,16.5,17,17.5,18], "labelExpr": "datum.value % 2 === 0 ? format(datum.value, 'd') : ''", "labelFont": "Liberation Serif", "tickSize": {"condition": {"test": "datum.value % 2 === 0", "value": 5}, "value": 2.5}, "labelOverlap": false, "labelPadding": 4, "title": "風速 (m/s)", "titlePadding": 8}}
           }},
          {"data": {"name": "m2014"}, "mark": {"type": "rule", "strokeWidth": 1.6, "color": "#8e8e8e"},
           "encoding": {"x": {"field": "a", "type": "quantitative", "axis": {"values": [0,30,60,90,120,150,180,210,240,270,300,330], "labelExpr": "datum.value/30+1", "labelFont": "Liberation Serif", "title": "月", "titleFontSize": 13, "titlePadding": 5, "tickSize": 4, "labelPadding": 3, "labelOverlap": false}},
                        "x2": {"field": "b"},
                        "y": {"field": "v", "type": "quantitative", "axis": {"values": [0,0.5,1,1.5,2,2.5,3,3.5,4,4.5,5,5.5,6,6.5,7,7.5,8,8.5,9,9.5,10,10.5,11,11.5,12,12.5,13,13.5,14,14.5,15,15.5,16,16.5,17,17.5,18], "labelExpr": "datum.value % 2 === 0 ? format(datum.value, 'd') : ''", "labelFont": "Liberation Serif", "tickSize": {"condition": {"test": "datum.value % 2 === 0", "value": 5}, "value": 2.5}, "labelOverlap": false, "labelPadding": 4, "title": "風速 (m/s)", "titlePadding": 8}}}},
          {"data": {"values": [{"v": 5.4}]}, "mark": {"type": "rule", "strokeWidth": 1.6, "strokeDash": [4, 1.5], "color": "#1a1a1a"},
           "encoding": {"y": {"field": "v", "type": "quantitative", "axis": {"values": [0,0.5,1,1.5,2,2.5,3,3.5,4,4.5,5,5.5,6,6.5,7,7.5,8,8.5,9,9.5,10,10.5,11,11.5,12,12.5,13,13.5,14,14.5,15,15.5,16,16.5,17,17.5,18], "labelExpr": "datum.value % 2 === 0 ? format(datum.value, 'd') : ''", "labelFont": "Liberation Serif", "tickSize": {"condition": {"test": "datum.value % 2 === 0", "value": 5}, "value": 2.5}, "labelOverlap": false, "labelPadding": 4, "title": "風速 (m/s)", "titlePadding": 8}}}},
          {"data": {"values": [{"t": "2014", "x": 6.7, "y": 16.7}]}, "mark": {"type": "text", "align": "left", "baseline": "middle", "fontSize": 16, "font": "Liberation Serif", "color": "#222"},
           "encoding": {"x": {"field": "x", "type": "quantitative", "axis": {"values": [0,30,60,90,120,150,180,210,240,270,300,330], "labelExpr": "datum.value/30+1", "labelFont": "Liberation Serif", "title": "月", "titleFontSize": 13, "titlePadding": 5, "tickSize": 4, "labelPadding": 3, "labelOverlap": false}},
                        "y": {"field": "y", "type": "quantitative", "axis": {"values": [0,0.5,1,1.5,2,2.5,3,3.5,4,4.5,5,5.5,6,6.5,7,7.5,8,8.5,9,9.5,10,10.5,11,11.5,12,12.5,13,13.5,14,14.5,15,15.5,16,16.5,17,17.5,18], "labelExpr": "datum.value % 2 === 0 ? format(datum.value, 'd') : ''", "labelFont": "Liberation Serif", "tickSize": {"condition": {"test": "datum.value % 2 === 0", "value": 5}, "value": 2.5}, "labelOverlap": false, "labelPadding": 4, "title": "風速 (m/s)", "titlePadding": 8}},
                        "text": {"field": "t"}}}
        ]},
        {"layer": [
          {"data": {"name": "t2014"}, "mark": {"type": "text", "align": "right", "baseline": "middle", "fontSize": 13},
           "encoding": {"x": {"datum": 468, "axis": {"values": [0,30,60,90,120,150,180,210,240,270,300,330], "labelExpr": "datum.value/30+1", "labelFont": "Liberation Serif", "title": "月", "titleFontSize": 13, "titlePadding": 5, "tickSize": 4, "labelPadding": 3, "labelOverlap": false}},
                        "y": {"field": "r", "type": "quantitative", "scale": {"domain": [0.49, 12.66], "reverse": true, "nice": false, "zero": false}, "axis": null}, "text": {"field": "t"}}}
        ]}
      ],
      "resolve": {"scale": {"y": "independent"}}
    }
  ]
}
